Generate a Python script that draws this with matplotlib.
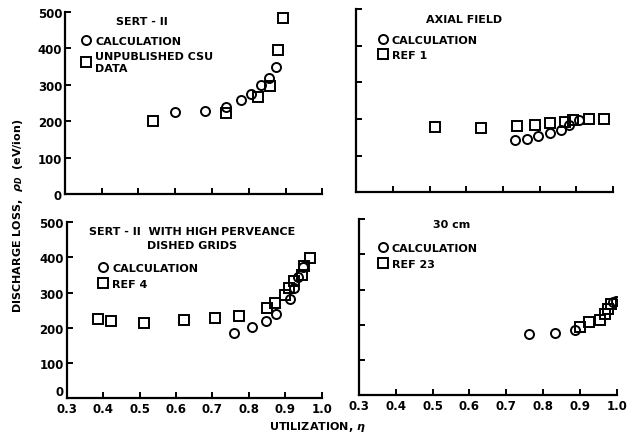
import matplotlib.pyplot as plt

plt.rcParams['font.family'] = 'DejaVu Sans'
plt.rcParams['font.weight'] = 'bold'

# SERT-II
sert_calc_x = [0.60, 0.68, 0.738, 0.778, 0.807, 0.834, 0.855, 0.875]
sert_calc_y = [226, 229, 240, 258, 275, 299, 318, 350]
sert_csu_x = [0.54, 0.738, 0.826, 0.858, 0.879, 0.894]
sert_csu_y = [200, 222, 266, 296, 396, 485]

# axial field
axial_calc_x = [0.733, 0.765, 0.795, 0.829, 0.857, 0.881, 0.907]
axial_calc_y = [141, 145, 152, 161, 170, 182, 197]
axial_ref_x = [0.514, 0.64, 0.738, 0.788, 0.829, 0.868, 0.89, 0.934, 0.975]
axial_ref_y = [179, 174, 180, 182, 188, 191, 196, 199, 201]

# SERT-II with high perveance dished grids
dish_calc_x = [0.759, 0.81, 0.847, 0.876, 0.913, 0.925, 0.936, 0.95]
dish_calc_y = [186, 203, 219, 240, 283, 312, 343, 372]
dish_ref_x = [0.385, 0.422, 0.512, 0.621, 0.708, 0.772, 0.851, 0.872, 0.899,
              0.91, 0.925, 0.946, 0.952, 0.968]
dish_ref_y = [224, 219, 214, 222, 229, 235, 255, 271, 292, 312, 333, 351, 376, 397]

# 30 cm
cm30_calc_x = [0.762, 0.832, 0.886, 0.99, 0.998]
cm30_calc_y = [175, 177, 184, 264, 269]
cm30_ref_x = [0.899, 0.925, 0.953, 0.967, 0.976, 0.985]
cm30_ref_y = [193, 208, 215, 231, 245, 259]

panels = [
    # rect, title, title pos, legend anchor, calc, ref, ref label
    ([0.101, 0.552, 0.401, 0.418], "SERT - II", (0.30, 0.95), (0.04, 0.90),
     (sert_calc_x, sert_calc_y), (sert_csu_x, sert_csu_y), "UNPUBLISHED CSU\nDATA"),
    ([0.555, 0.556, 0.400, 0.421], "AXIAL FIELD", (0.42, 0.945), (0.06, 0.89),
     (axial_calc_x, axial_calc_y), (axial_ref_x, axial_ref_y), "REF 1"),
    ([0.104, 0.082, 0.397, 0.405], "SERT - II  WITH HIGH PERVEANCE\nDISHED GRIDS",
     (0.49, 0.91), (0.10, 0.80),
     (dish_calc_x, dish_calc_y), (dish_ref_x, dish_ref_y), "REF 4"),
    ([0.559, 0.089, 0.402, 0.405], "30 cm", (0.36, 0.975), (0.05, 0.895),
     (cm30_calc_x, cm30_calc_y), (cm30_ref_x, cm30_ref_y), "REF 23"),
]

fig = plt.figure(figsize=(6.42, 4.35), dpi=100)

for i, (rect, title, tpos, lpos, calc, ref, ref_label) in enumerate(panels):
    ax = fig.add_axes(rect)
    ax.plot(calc[0], calc[1], 'o', ms=6.5, mfc='none', mec='black', mew=1.4,
            ls='none', label='CALCULATION')
    ax.plot(ref[0], ref[1], 's', ms=6.5, mfc='none', mec='black', mew=1.4,
            ls='none', label=ref_label)
    ax.set_xlim(0.3, 1.0)
    ax.set_ylim(0, 500)
    ax.set_xticks([0.3, 0.4, 0.5, 0.6, 0.7, 0.8, 0.9, 1.0])
    ax.set_yticks([0, 100, 200, 300, 400, 500])
    ax.spines['top'].set_visible(False)
    ax.spines['right'].set_visible(False)
    ax.spines['left'].set_linewidth(1.6)
    ax.spines['bottom'].set_linewidth(1.6)
    ax.tick_params(direction='in', length=4, width=1.4, labelsize=8.5)
    ax.tick_params(axis='x', pad=3)
    ax.tick_params(axis='y', pad=2)
    if i < 2:
        ax.set_xticklabels([])
    else:
        ax.set_xticklabels(['0.3', '0.4', '0.5', '0.6', '0.7', '0.8', '0.9', '1.0'])
    if i % 2 == 1:
        ax.set_yticklabels([])
    elif i == 2:
        # lift the "0" so it clears the "0.3" below it
        ax.get_yticklabels()[0].set_va('bottom')
    ax.text(tpos[0], tpos[1], title, transform=ax.transAxes, ha='center',
            va='center', fontsize=8, fontweight='bold', linespacing=1.6)
    ax.legend(loc='upper left', bbox_to_anchor=lpos, frameon=False,
              handletextpad=0.3, handlelength=1.0,
              borderpad=0, labelspacing=0.5, prop={'weight': 'bold', 'size': 8})

fig.text(0.028, 0.505, r"DISCHARGE LOSS,  $\rho_D$  (eV/ion)", rotation=90,
         ha='center', va='center', fontsize=8, fontweight='bold')
fig.text(0.495, 0.018, r"UTILIZATION, $\eta$", ha='center', va='center',
         fontsize=8, fontweight='bold')

fig.savefig('out.png', dpi=100)
